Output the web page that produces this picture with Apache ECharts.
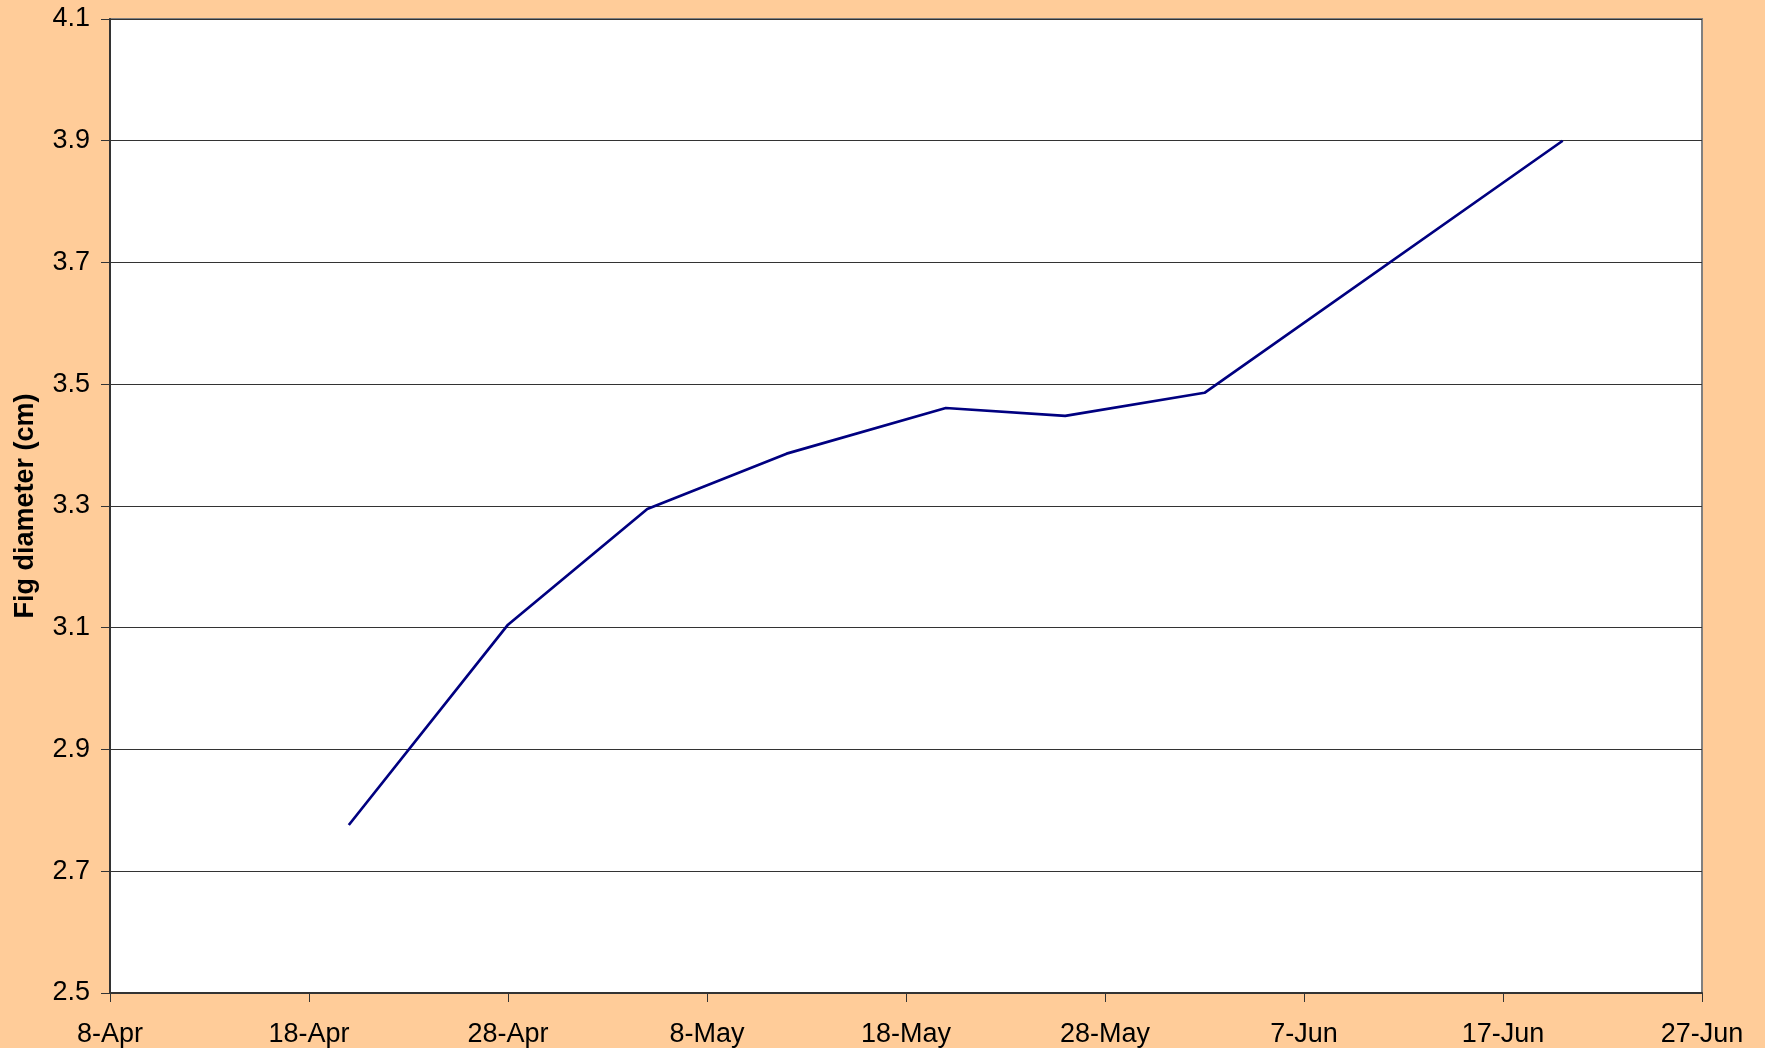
<!DOCTYPE html>
<html>
<head>
<meta charset="utf-8">
<script src="https://cdn.jsdelivr.net/npm/echarts@6/dist/echarts.min.js"></script>
<style>
html,body{margin:0;padding:0;background:#FFCC99;}
#chart{width:1765px;height:1048px;}
</style>
</head>
<body>
<div id="chart"></div>
<script>
// Measurement dates (day-month) and fig diameters (cm)
const dates = ['20-Apr', '28-Apr', '5-May', '12-May', '20-May', '26-May', '2-Jun', '20-Jun'];
const diameters = [2.776, 3.105, 3.295, 3.386, 3.461, 3.448, 3.486, 3.900];
// x-axis tick labels (every 10 days from 8-Apr)
const xTickLabels = ['8-Apr', '18-Apr', '28-Apr', '8-May', '18-May', '28-May', '7-Jun', '17-Jun', '27-Jun'];
const yTicks = [2.5, 2.7, 2.9, 3.1, 3.3, 3.5, 3.7, 3.9, 4.1];

const months = {Apr: 3, May: 4, Jun: 5};
function dayOffset(s) {
  const [d, m] = s.split('-');
  const t = Date.UTC(2007, months[m], +d);
  const t0 = Date.UTC(2007, 3, 8);
  return Math.round((t - t0) / 86400000);
}
const seriesData = dates.map((d, i) => [dayOffset(d), diameters[i]]);

const chart = echarts.init(document.getElementById('chart'));
const font = 'Liberation Sans, Arial, sans-serif';
chart.setOption({
  backgroundColor: '#FFCC99',
  animation: false,
  grid: {
    left: 110, right: 63, top: 19, bottom: 55,
    containLabel: false, outerBoundsMode: 'none',
    show: true, backgroundColor: '#FFFFFF',
    borderColor: '#808080', borderWidth: 2
  },
  xAxis: {
    type: 'value', min: 0, max: 80, interval: 10,
    axisLine: {show: true, lineStyle: {color: '#333333', width: 2}},
    axisTick: {show: true, length: 9, lineStyle: {color: '#333333', width: 1}},
    splitLine: {show: false},
    axisLabel: {
      margin: 28, fontSize: 27, fontFamily: font, color: '#000000',
      formatter: v => xTickLabels[Math.round(v / 10)] || ''
    }
  },
  yAxis: {
    type: 'value', min: yTicks[0], max: yTicks[yTicks.length - 1], interval: 0.2,
    name: 'Fig diameter (cm)', nameLocation: 'middle', nameGap: 71,
    nameTextStyle: {fontSize: 27, fontWeight: 'bold', fontFamily: font, color: '#000000'},
    axisLine: {show: true, lineStyle: {color: '#333333', width: 2}},
    axisTick: {show: true, length: 9, lineStyle: {color: '#333333', width: 1}},
    splitLine: {show: true, lineStyle: {color: '#333333', width: 1}},
    axisLabel: {
      margin: 20, fontSize: 27, fontFamily: font, color: '#000000',
      formatter: v => v.toFixed(1)
    }
  },
  series: [{
    type: 'line',
    data: seriesData,
    showSymbol: false,
    symbol: 'none',
    lineStyle: {color: '#000080', width: 2.7}
  }]
});
</script>
</body>
</html>
